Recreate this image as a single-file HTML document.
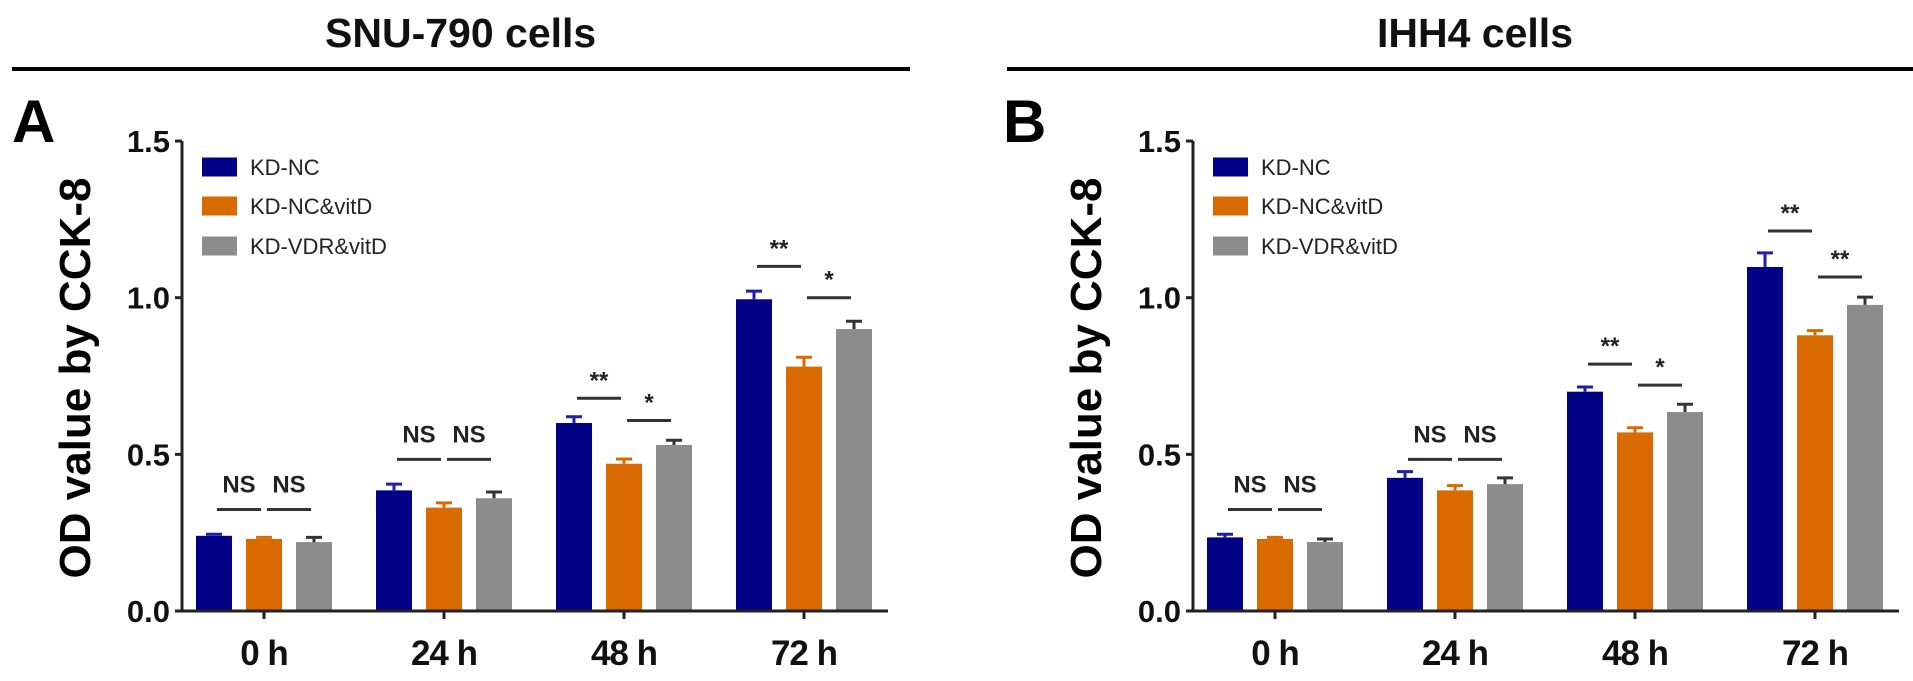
<!DOCTYPE html>
<html><head><meta charset="utf-8"><style>
html,body{margin:0;padding:0;background:#fff;}
svg{display:block;font-family:"Liberation Sans",Arial,sans-serif;}
</style></head><body>
<svg id="fig" width="1913" height="681" viewBox="0 0 1913 681"></svg>
<script>
const categories = ["0 h","24 h","48 h","72 h"];
const seriesNames = ["KD-NC","KD-NC&vitD","KD-VDR&vitD"];
const yTicks = [0.0,0.5,1.0,1.5];
const yTickLabels = ["0.0","0.5","1.0","1.5"];
// Panel A (SNU-790)
const aKdNc = [0.24,0.385,0.60,0.995];
const aKdNcVit = [0.23,0.33,0.47,0.78];
const aKdVdrVit = [0.22,0.36,0.53,0.90];
const aErrKdNc = [0.005,0.02,0.02,0.026];
const aErrKdNcVit = [0.005,0.015,0.015,0.03];
const aErrKdVdrVit = [0.015,0.02,0.015,0.025];
const aSigGroup = [0,0,1,1,2,2,3,3];
const aSigFrom = [0,1,0,1,0,1,0,1];
const aSigY = [0.324,0.324,0.484,0.484,0.679,0.608,1.10,1.00];
const aSigLabel = ["NS","NS","NS","NS","**","*","**","*"];
// Panel B (IHH4)
const bKdNc = [0.235,0.425,0.70,1.098];
const bKdNcVit = [0.23,0.385,0.57,0.88];
const bKdVdrVit = [0.22,0.405,0.635,0.977];
const bErrKdNc = [0.01,0.02,0.015,0.045];
const bErrKdNcVit = [0.005,0.015,0.015,0.015];
const bErrKdVdrVit = [0.01,0.02,0.025,0.025];
const bSigGroup = [0,0,1,1,2,2,3,3];
const bSigFrom = [0,1,0,1,0,1,0,1];
const bSigY = [0.324,0.324,0.484,0.484,0.788,0.721,1.213,1.066];
const bSigLabel = ["NS","NS","NS","NS","**","*","**","**"];

const NS="http://www.w3.org/2000/svg";
const svg=document.getElementById('fig');
const colors=["#020286","#d86a00","#8c8c8c"];
const errColors=["#2020a0","#d86a00","#333333"];
function mk(tag,attrs,parent){const e=document.createElementNS(NS,tag);for(const k in attrs)e.setAttribute(k,attrs[k]);(parent||svg).appendChild(e);return e;}

function panel(ox,letter,letterX,title,titleX,lineX1,lineX2,vals,errs,sg,sf,sy,sl,pname){
  const g=mk('g',{});
  
  
  const axisX=182+ox, y0=611, pxPerUnit=313.3;
  const yS=v=>y0-v*pxPerUnit;
  const groupX=i=>264+ox+i*180;
  const barX=(i,s)=>groupX(i)+(s-1)*50;
  let t=mk('text',{x:titleX,y:47,'font-size':41,'font-weight':'bold',fill:'#111'},g);t.textContent=title;
  
  
  let l=mk('line',{x1:lineX1,x2:lineX2,y1:69,y2:69,stroke:'#000','stroke-width':4},g);
  
  
  t=mk('text',{x:letterX,y:142,'font-size':60,'font-weight':'bold',fill:'#000'},g);t.textContent=letter;
  
  
  t=mk('text',{x:0,y:0,'font-size':44,'font-weight':'bold',fill:'#000','text-anchor':'middle',transform:`translate(${90+ox},378) rotate(-90)`},g);t.textContent="OD value by CCK-8";
  
  
  for(let s=0;s<3;s++){for(let i=0;i<4;i++){
    const v=vals[s][i],e=errs[s][i],cx=barX(i,s);
    const r=mk('rect',{x:cx-18,y:yS(v),width:36,height:y0-yS(v),fill:colors[s]},g);
    
    
    const eb=mk('path',{d:`M${cx},${yS(v)} V${yS(v+e)} M${cx-8},${yS(v+e)} H${cx+8}`,stroke:errColors[s],'stroke-width':3,fill:'none'},g);
    
    
  }}
  let ax=mk('path',{d:`M${axisX},${yS(1.5)} V${y0} H${axisX+706}`,stroke:'#222','stroke-width':3,fill:'none'},g);
  
  
  yTicks.forEach((v,k)=>{
    mk('line',{x1:axisX-7,x2:axisX,y1:yS(v),y2:yS(v),stroke:'#222','stroke-width':3},g);
    const tt=mk('text',{x:axisX-12,y:yS(v)+11,'font-size':31,'font-weight':'bold','text-anchor':'end',fill:'#111'},g);tt.textContent=yTickLabels[k];
    
    
  });
  categories.forEach((c,i)=>{
    mk('line',{x1:groupX(i),x2:groupX(i),y1:y0,y2:y0+8,stroke:'#222','stroke-width':3},g);
    const tt=mk('text',{x:groupX(i),y:665,'font-size':35,'font-weight':'bold','text-anchor':'middle',fill:'#111','letter-spacing':'-1'},g);tt.textContent=c;
    
    
  });
  sg.forEach((gi,k)=>{
    const x1=barX(gi,sf[k])+3,x2=barX(gi,sf[k]+1)-3,yy=yS(sy[k]);
    const ln=mk('line',{x1:x1,x2:x2,y1:yy,y2:yy,stroke:'#333','stroke-width':3},g);
    
    
    const isNS=sl[k]==="NS";
    const tt=mk('text',{x:(x1+x2)/2,y:isNS?yy-17:yy-10,'font-size':24,'font-weight':'bold','text-anchor':'middle',fill:'#222'},g);tt.textContent=sl[k];
    
    
  });
  const ly=[167,206,246];
  seriesNames.forEach((n,s)=>{
    const sw=mk('rect',{x:202+ox,y:ly[s]-9.5,width:35,height:19,fill:colors[s]},g);
    
    
    const tt=mk('text',{x:250+ox,y:ly[s]+8,'font-size':22,fill:'#222'},g);tt.textContent=n;
    
    
  });
}
panel(0,"A",12,"SNU-790 cells",325,12,910,[aKdNc,aKdNcVit,aKdVdrVit],[aErrKdNc,aErrKdNcVit,aErrKdVdrVit],aSigGroup,aSigFrom,aSigY,aSigLabel,'panel-a-snu790');
panel(1011,"B",1003,"IHH4 cells",1377,1007,1913,[bKdNc,bKdNcVit,bKdVdrVit],[bErrKdNc,bErrKdNcVit,bErrKdVdrVit],bSigGroup,bSigFrom,bSigY,bSigLabel,'panel-b-ihh4');
</script>
</body></html>
